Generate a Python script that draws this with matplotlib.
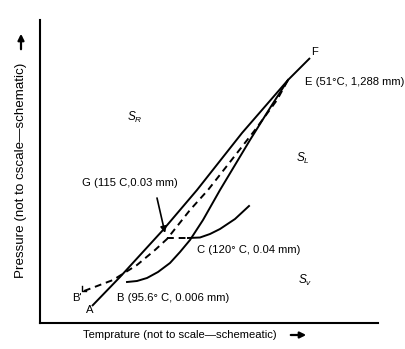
import matplotlib
matplotlib.use("Agg")
import matplotlib.pyplot as plt
import matplotlib.patches as mpatches

BASE = "Liberation Sans"
plt.rcParams['font.family'] = [BASE, 'DejaVu Sans']
plt.rcParams['mathtext.fontset'] = 'custom'
plt.rcParams['mathtext.it'] = BASE + ':italic'
plt.rcParams['mathtext.rm'] = BASE

# Schematic curves (arbitrary schematic units)
af_x = [92, 120, 163, 197, 242, 288, 310]
af_y = [43, 72, 119, 159, 216, 269, 291]

b_x = [127, 137, 147, 158, 170, 180, 190, 203, 220, 250, 270, 288]
b_y = [67, 68, 71, 77, 86, 97, 109, 129, 159, 209, 241, 269]

c_x = [188, 200, 210, 220, 235, 249]
c_y = [111, 111.5, 115, 120, 130, 143]

dash_x = [84, 113, 137, 155, 167, 190, 208, 230, 255, 277, 288]
dash_y = [58, 69, 84, 99, 110, 139, 159, 187, 219, 249, 269]

hook_x = [82, 82, 86]
hook_y = [63, 58, 58]

gc_x = [167, 188]
gc_y = [111, 111]

arrow_from = (157, 151)
arrow_to = (165, 116)

labels = [
    ("G (115 C,0.03 mm)", 82, 166),
    ("C (120° C, 0.04 mm)", 197, 99),
    ("B (95.6° C, 0.006 mm)", 117, 51),
    ("E (51°C, 1,288 mm)", 305, 267),
    ("B'", 72, 51),
    ("A", 86, 39),
    ("F", 311, 297),
]
region_labels = [
    ("$S_R$", 127, 232),
    ("$S_L$", 296, 191),
    ("$S_v$", 298, 69),
]

xlabel = "Temprature (not to scale—schemeatic)"
ylabel = "Pressure (not to cscale—schematic)"

W, H = 405, 349
fig = plt.figure(figsize=(W / 100, H / 100), dpi=100)
L, R, B, T = 40, 378, 323, 20
ax = fig.add_axes([L / W, (H - B) / H, (R - L) / W, (B - T) / H])
ax.set_xlim(L, R)
ax.set_ylim(H - B, H - T)
for s in ['top', 'right']:
    ax.spines[s].set_visible(False)
for s in ['left', 'bottom']:
    ax.spines[s].set_linewidth(1.5)
ax.set_xticks([])
ax.set_yticks([])

lw = 1.4
ax.plot(af_x, af_y, color='black', lw=lw, solid_capstyle='butt')
ax.plot(b_x, b_y, color='black', lw=lw)
ax.plot(c_x, c_y, color='black', lw=lw)
ax.plot(dash_x, dash_y, color='black', lw=lw, dashes=(3.5, 2.5))
ax.plot(gc_x, gc_y, color='black', lw=lw, dashes=(3.5, 2.5))
ax.plot(hook_x, hook_y, color='black', lw=1.0)
ax.annotate("", xy=arrow_to, xytext=arrow_from,
            arrowprops=dict(arrowstyle="-|>", color='black', lw=1.2,
                            mutation_scale=9, shrinkA=0, shrinkB=0))

fs = 8.1
for txt, x, y in labels:
    ax.text(x, y, txt, fontsize=fs, ha='left', va='center', color='black')
for txt, x, y in region_labels:
    ax.text(x, y, txt, fontsize=8.5, ha='left', va='center', color='black')

fig.text(83 / W, 1 - 335 / H, xlabel, fontsize=8.1, ha='left', va='center', color='black')
fig.text(21 / W, 1 - 170 / H, ylabel, fontsize=9.6, ha='center', va='center',
         rotation=90, color='black')

# axis-direction arrows
fig.add_artist(mpatches.FancyArrowPatch(
    (288 / W, 1 - 335 / H), (309 / W, 1 - 335 / H), transform=fig.transFigure,
    arrowstyle="-|>", mutation_scale=9, lw=1.6, color='black'))
fig.add_artist(mpatches.FancyArrowPatch(
    (21 / W, 1 - 52 / H), (21 / W, 1 - 31 / H), transform=fig.transFigure,
    arrowstyle="-|>", mutation_scale=9, lw=1.6, color='black'))

fig.savefig("out.png", dpi=100)
